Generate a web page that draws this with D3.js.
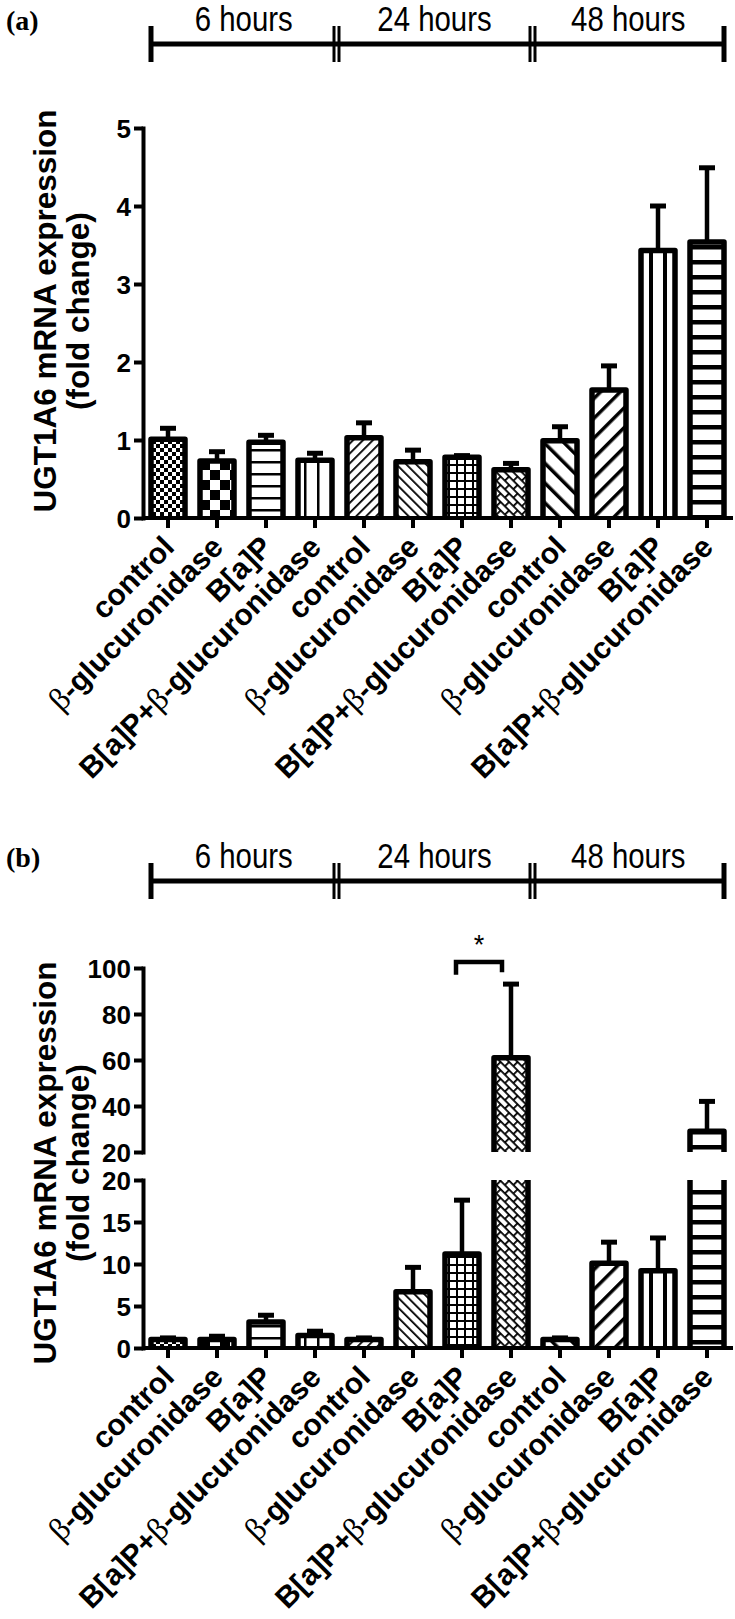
<!DOCTYPE html>
<html lang="en">
<head>
<meta charset="utf-8">
<title>UGT1A6 mRNA expression</title>
<script src="https://cdn.jsdelivr.net/npm/d3@7"></script>
<style>
  body { margin: 0; background: #fff; }
  text { font-family: "Liberation Sans", Arial, sans-serif; fill: #000; }
</style>
</head>
<body>
<script>
// categories, repeated for each time point
var categories = ["control", "β-glucuronidase", "B[a]P", "B[a]P+β-glucuronidase",
                  "control", "β-glucuronidase", "B[a]P", "B[a]P+β-glucuronidase",
                  "control", "β-glucuronidase", "B[a]P", "B[a]P+β-glucuronidase"];
var groups = ["6 hours", "24 hours", "48 hours"];

// panel (a) fold change and SEM
var meanA = [1.01, 0.73, 0.97, 0.74, 1.03, 0.72, 0.78, 0.62, 0.99, 1.64, 3.43, 3.54];
var errA  = [0.14, 0.12, 0.09, 0.09, 0.19, 0.15, 0.02, 0.08, 0.18, 0.31, 0.57, 0.95];

// panel (b)
var meanB = [1.0, 1.0, 3.1, 1.5, 1.0, 6.7, 11.2, 61, 1.0, 10.1, 9.2, 29];
var errB  = [0.2, 0.4, 0.8, 0.5, 0.2, 2.9, 6.4, 32, 0.2, 2.5, 3.9, 13];

var ticksA = [0, 1, 2, 3, 4, 5];
var ticksBLow = [0, 5, 10, 15, 20];
var ticksBHigh = [20, 40, 60, 80, 100];

// significance bracket in (b): between bar 6 and 7
var sigPair = [6, 7];
var sigLevel = 102.6;

var w = 735, h = 1619;
var svg = d3.select("body").append("svg").attr("width", w).attr("height", h);
var defs = svg.append("defs");

//----- fill patterns
function pat(id, pw, ph, tr) {
  var p = defs.append("pattern").attr("id", id)
    .attr("patternUnits", "userSpaceOnUse")
    .attr("width", pw).attr("height", ph);
  if (tr) p.attr("patternTransform", tr);
  p.append("rect").attr("width", pw).attr("height", ph).attr("fill", "#fff");
  return p;
}
var p;
p = pat("p0", 8, 8);
p.append("rect").attr("width", 4).attr("height", 4);
p.append("rect").attr("x", 4).attr("y", 4).attr("width", 4).attr("height", 4);
p = pat("p1", 20, 20);
p.append("rect").attr("width", 10).attr("height", 10);
p.append("rect").attr("x", 10).attr("y", 10).attr("width", 10).attr("height", 10);
p = pat("p2", 12, 12);
p.append("rect").attr("y", 5).attr("width", 12).attr("height", 2.5);
p = pat("p3", 13, 13);
p.append("rect").attr("x", 5).attr("width", 2.5).attr("height", 13);
p = pat("p4", 7, 7, "rotate(45)");
p.append("rect").attr("width", 1.8).attr("height", 7);
p = pat("p5", 7, 7, "rotate(-45)");
p.append("rect").attr("width", 1.8).attr("height", 7);
p = pat("p6", 8, 8);
p.append("rect").attr("width", 8).attr("height", 2);
p.append("rect").attr("width", 2).attr("height", 8);
p = pat("p7", 12, 12, "rotate(45)");
p.append("rect").attr("width", 12).attr("height", 1.8);
p.append("rect").attr("y", 6).attr("width", 12).attr("height", 1.8);
p.append("rect").attr("width", 1.8).attr("height", 6);
p.append("rect").attr("x", 6).attr("y", 6).attr("width", 1.8).attr("height", 6);
p = pat("p8", 14, 14, "rotate(-45)");
p.append("rect").attr("width", 3.5).attr("height", 14);
p = pat("p9", 14, 14, "rotate(45)");
p.append("rect").attr("width", 3.5).attr("height", 14);
p = pat("p10", 14, 14);
p.append("rect").attr("x", 5).attr("width", 4).attr("height", 14);
p = pat("p11", 15, 15);
p.append("rect").attr("y", 5).attr("width", 15).attr("height", 4.5);

//----- shared x scale
var x = d3.scaleBand().domain(d3.range(categories.length))
  .range([143.5, 731.5]).paddingInner(0.306).paddingOuter(0.153);
var bw = x.bandwidth();
function cx(i) { return x(i) + bw / 2; }

function header(top, tag) {
  var g = svg.append("g");
  g.append("text").attr("x", 6).attr("y", top + 30)
    .style("font-family", "'Liberation Serif', 'Times New Roman', serif")
    .style("font-weight", "bold").style("font-size", "28px").text(tag);
  var ends = [x(0), (cx(3) + cx(4)) / 2 - 3, (cx(7) + cx(8)) / 2 - 3, x(11) + bw];
  var ly = top + 44;
  g.append("line").attr("x1", ends[0]).attr("x2", ends[3]).attr("y1", ly).attr("y2", ly)
    .attr("stroke", "#000").attr("stroke-width", 5);
  ends.forEach(function(e, k) {
    var offs = (k === 0 || k === 3) ? [0] : [-2.5, 2.5];
    offs.forEach(function(o) {
      g.append("line").attr("x1", e + o).attr("x2", e + o)
        .attr("y1", ly - 18).attr("y2", ly + 18)
        .attr("stroke", "#000").attr("stroke-width", (k === 0 || k === 3) ? 5 : 3);
    });
  });
  groups.forEach(function(t, k) {
    g.append("text")
      .attr("transform", "translate(" + ((ends[k] + ends[k + 1]) / 2) + "," + (top + 31) + ") scale(0.84,1)")
      .attr("text-anchor", "middle").style("font-size", "35px").text(t);
  });
}

function yLabel(cy) {
  var g = svg.append("g").attr("transform", "translate(0," + cy + ")");
  g.append("text").attr("transform", "translate(56,0) rotate(-90)")
    .attr("text-anchor", "middle").style("font-weight", "bold").style("font-size", "31.5px")
    .text("UGT1A6 mRNA expression");
  g.append("text").attr("transform", "translate(89,0) rotate(-90)")
    .attr("text-anchor", "middle").style("font-weight", "bold").style("font-size", "31.5px")
    .text("(fold change)");
}

function yAxis(scale, ticks) {
  var g = svg.append("g").attr("transform", "translate(143,0)")
    .call(d3.axisLeft(scale).tickValues(ticks).tickFormat(d3.format("d"))
      .tickSize(9).tickSizeOuter(0).tickPadding(3));
  g.select(".domain").attr("stroke-width", 4).attr("stroke-linecap", "square");
  g.selectAll(".tick line").attr("stroke-width", 4);
  g.selectAll(".tick text").style("font-family", "'Liberation Sans', Arial, sans-serif")
    .style("font-weight", "bold").style("font-size", "26px").attr("dy", "0.36em");
  return g;
}

function xAxis(y0) {
  var g = svg.append("g").attr("transform", "translate(0," + y0 + ")");
  g.append("line").attr("x1", 143).attr("x2", 733).attr("stroke", "#000").attr("stroke-width", 4);
  g.selectAll(".xt").data(categories).enter().append("line")
    .attr("x1", function(d, i) { return cx(i); }).attr("x2", function(d, i) { return cx(i); })
    .attr("y1", 0).attr("y2", 10).attr("stroke", "#000").attr("stroke-width", 4);
  var lab = g.selectAll(".xl").data(categories).enter().append("text")
    .attr("transform", function(d, i) { return "translate(" + (cx(i) - 7) + ",16) rotate(-45)"; })
    .attr("text-anchor", "end").attr("dy", "0.7em")
    .style("font-weight", "bold").style("font-size", "30px");
  lab.each(function(d) {
    var t = d3.select(this);
    d.split("β").forEach(function(part, k) {
      if (k > 0) t.append("tspan").style("font-family", "'Liberation Serif', serif")
        .style("font-weight", "normal").style("font-size", "32px").text("β");
      if (part) t.append("tspan").text(part);
    });
  });
}

function barPath(i, yb, yt, closed) {
  var x0 = x(i), x1 = x(i) + bw;
  return closed ? "M" + x0 + "," + yb + "V" + yt + "H" + x1 + "V" + yb
                : "M" + x0 + "," + yb + "V" + yt + "M" + x1 + "," + yt + "V" + yb;
}

function drawBar(i, yb, yt, closed) {
  svg.append("rect").attr("x", x(i)).attr("y", yt).attr("width", bw).attr("height", yb - yt)
    .attr("fill", "url(#p" + i + ")");
  svg.append("path").attr("d", barPath(i, yb, yt, closed)).attr("fill", "none")
    .attr("stroke", "#000").attr("stroke-width", 5.5).attr("stroke-linejoin", "round");
}

function errBar(i, y1, y2) {
  svg.append("line").attr("x1", cx(i)).attr("x2", cx(i)).attr("y1", y1).attr("y2", y2)
    .attr("stroke", "#000").attr("stroke-width", 4.5);
  svg.append("line").attr("x1", cx(i) - 8).attr("x2", cx(i) + 8).attr("y1", y2).attr("y2", y2)
    .attr("stroke", "#000").attr("stroke-width", 5);
}

//===== panel (a)
header(0, "(a)");
var yA = d3.scaleLinear().domain([0, 5]).range([518, 128]);
yLabel(311);
meanA.forEach(function(v, i) {
  errBar(i, yA(v), yA(v + errA[i]));
  drawBar(i, yA(0), yA(v), true);
});
yAxis(yA, ticksA);
xAxis(518);

//===== panel (b): broken axis
header(837, "(b)");
var yLow = d3.scaleLinear().domain([0, 20]).range([1348, 1180]);
var yHigh = d3.scaleLinear().domain([20, 100]).range([1152, 968]);
yLabel(1163);
meanB.forEach(function(v, i) {
  var top = v + errB[i];
  if (v <= 20) {
    if (top <= 20) errBar(i, yLow(v), yLow(top));
    drawBar(i, yLow(0), yLow(v), true);
  } else {
    errBar(i, yHigh(v), yHigh(top));
    drawBar(i, yLow(0), yLow(20), false);
    drawBar(i, yHigh(20), yHigh(v), true);
  }
});
yAxis(yHigh, ticksBHigh);
yAxis(yLow, ticksBLow);
xAxis(1348);

// significance bracket
var bx0 = cx(sigPair[0]) - 6, bx1 = cx(sigPair[1]) - 9;
svg.append("path")
  .attr("d", "M" + bx0 + "," + yHigh(sigLevel - 5.5) + "V" + yHigh(sigLevel) + "H" + bx1 + "V" + yHigh(sigLevel - 4.5))
  .attr("fill", "none").attr("stroke", "#000").attr("stroke-width", 4.5);
svg.append("text").attr("x", (bx0 + bx1) / 2).attr("y", yHigh(sigLevel) - 8)
  .attr("text-anchor", "middle").style("font-size", "27px").text("*");
</script>
</body>
</html>
